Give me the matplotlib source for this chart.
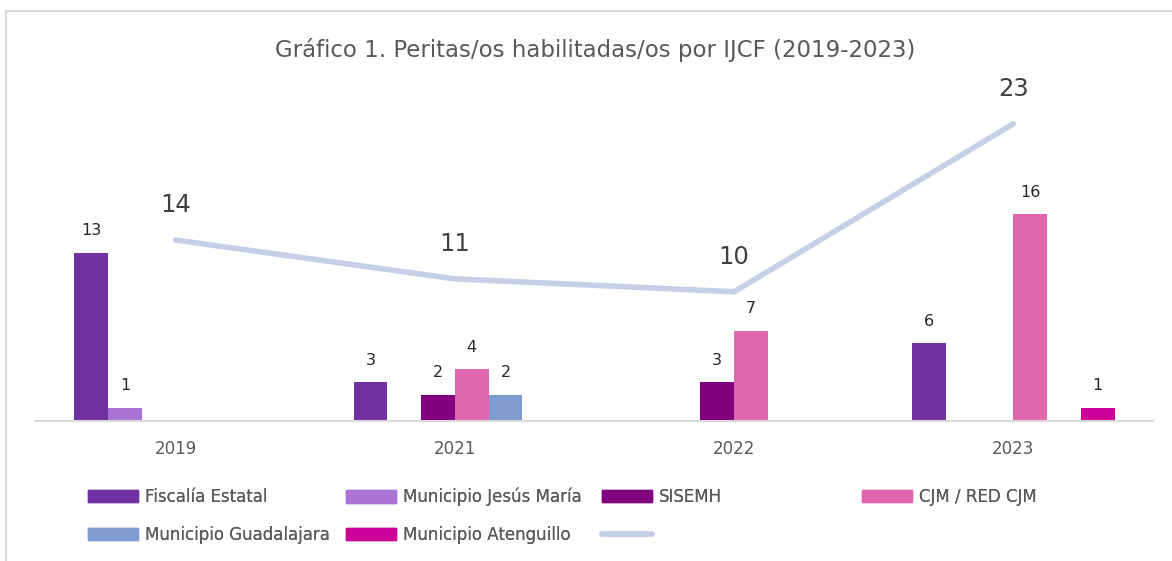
import matplotlib
matplotlib.use("Agg")
import matplotlib.pyplot as plt
import numpy as np
from matplotlib.patches import Rectangle
from matplotlib.lines import Line2D

plt.rcParams['font.family'] = ['DejaVu Sans']

years = ["2019", "2021", "2022", "2023"]
series_names = ["Fiscalía Estatal", "Municipio Jesús María", "SISEMH",
                "CJM / RED CJM", "Municipio Guadalajara", "Municipio Atenguillo"]
fiscalia = [13, 3, 0, 6]
jesus_maria = [1, 0, 0, 0]
sisemh = [0, 2, 3, 0]
cjm = [0, 4, 7, 16]
guadalajara = [0, 2, 0, 0]
atenguillo = [0, 0, 0, 1]
totals = [14, 11, 10, 23]
colors = ["#7030A0", "#A974D6", "#800080", "#E066AE", "#7F9BD0", "#CC0099"]
line_color = "#C5CFE6"

series = [fiscalia, jesus_maria, sisemh, cjm, guadalajara, atenguillo]

fig = plt.figure(figsize=(11.72, 5.61), dpi=100)
# outer border
fig.patches.append(Rectangle((6/1172, -0.02), 1.05, (561-11)/561 + 0.02,
                             transform=fig.transFigure, fill=False,
                             edgecolor="#D9D9D9", linewidth=1.5))

ax = fig.add_axes([36/1172, 140/561, (1153-36)/1172, 336/561])
x = np.arange(len(years))
w = 0.121
for i, (vals, col, name) in enumerate(zip(series, colors, series_names)):
    offs = (i - 2.5) * w
    xs = [xi + offs for xi, v in zip(x, vals) if v > 0]
    vs = [v for v in vals if v > 0]
    ax.bar(xs, vs, width=w, color=col, label=name, zorder=2)
    for xx, vv in zip(xs, vs):
        ax.annotate(str(vv), (xx, vv), xytext=(0, 16), textcoords="offset points",
                    ha="center", va="center", fontsize=11.5, color="#262626")

ax.plot(x, totals, color=line_color, linewidth=4, solid_capstyle="round", zorder=3)
for xx, t in zip(x, totals):
    ax.annotate(str(t), (xx, t), xytext=(0, 25), textcoords="offset points",
                ha="center", va="center", fontsize=17.5, fontweight="normal",
                color="#404040")

ax.set_xlim(-0.5, 3.5)
ax.set_ylim(0, 26)
ax.set_xticks(x)
ax.set_xticklabels(years, fontsize=12, color="#595959")
ax.tick_params(axis="x", length=0, pad=14)
ax.set_yticks([])
for s in ["top", "right", "left"]:
    ax.spines[s].set_visible(False)
ax.spines["bottom"].set_color("#D9D9D9")
ax.spines["bottom"].set_linewidth(1.5)

fig.text(595/1172, 1 - 50/561, "Gráfico 1. Peritas/os habilitadas/os por IJCF (2019-2023)",
         ha="center", va="center", fontsize=16.5, color="#595959")

# legend entries placed in an Excel-like grid
handles = [Rectangle((0, 0), 1, 1, color=c) for c in colors] + \
          [Line2D([0], [0], color=line_color, linewidth=4, solid_capstyle="round")]
labels = series_names + [""]
positions = [(88, 497), (346, 497), (602, 497), (862, 497),
             (88, 535), (346, 535), (602, 535)]
for h, l, (px, py) in zip(handles, labels, positions):
    leg = fig.legend([h], [l], loc="center left",
                     bbox_to_anchor=(px/1172, 1 - py/561),
                     frameon=False, fontsize=12, handlelength=3.0,
                     handleheight=0.75, handletextpad=0.4, borderpad=0, borderaxespad=0,
                     labelcolor="#595959")
    fig.add_artist(leg)

fig.savefig("out.png", dpi=100)
